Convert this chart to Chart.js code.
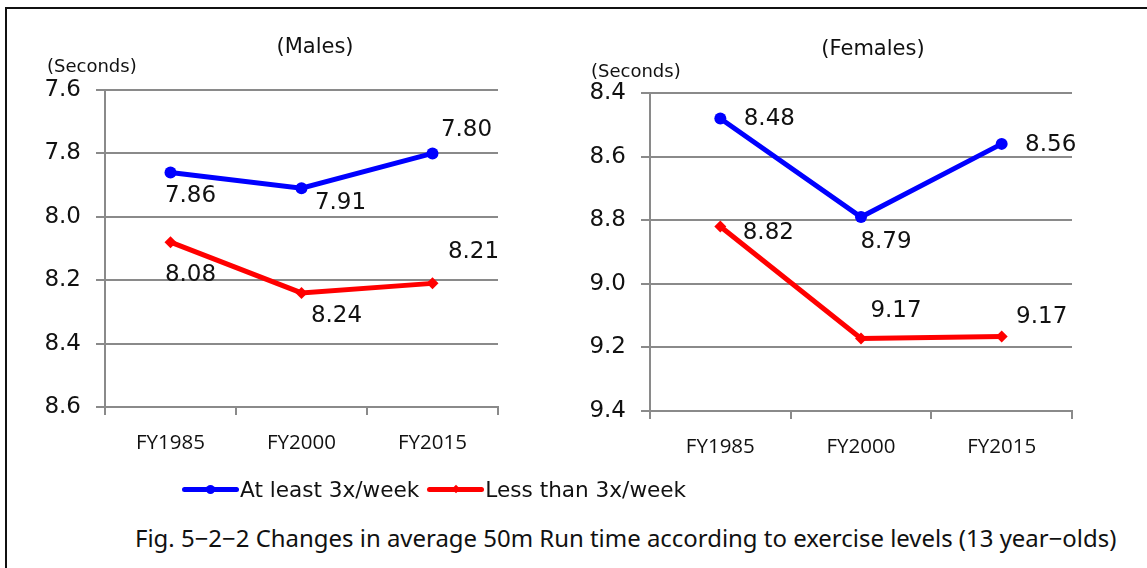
<!DOCTYPE html>
<html>
<head>
<meta charset="utf-8">
<script src="https://cdn.jsdelivr.net/npm/chart.js@4.4.1/dist/chart.umd.min.js"></script>
<style>
  html, body { margin:0; padding:0; background:#fff; }
  #wrap { position:relative; width:1147px; height:568px; overflow:hidden; background:#fff; }
  #frame { position:absolute; left:5px; top:7px; width:1300px; height:700px; border-left:2px solid #111; border-top:2px solid #111; }
  canvas { position:absolute; }
  .txt { position:absolute; white-space:nowrap; color:#111; font-family:"DejaVu Sans", sans-serif; }
  .title { font-size:21px; transform:translate(-50%,-50%); }
  .unit { font-size:18px; transform:translateY(-50%); }
  #legend { position:absolute; left:182px; top:477px; height:24px; display:flex; align-items:center; font-family:"DejaVu Sans", sans-serif; font-size:21.6px; color:#111; }
  .sample { position:relative; width:57px; height:24px; margin-right:1px; }
  .sample .ln { position:absolute; left:0; right:0; top:9.5px; height:5px; border-radius:3px; }
  .sample .mk { position:absolute; }
  #caption { position:absolute; left:135px; top:537px; transform:translateY(-50%); font-family:"Noto Sans", sans-serif; color:#111; white-space:nowrap; }
</style>
</head>
<body>
<div id="wrap">
  <div id="frame"></div>
  <canvas id="males" width="560" height="480" style="left:0;top:0;width:560px;height:480px"></canvas>
  <canvas id="females" width="575" height="480" style="left:560px;top:0;width:575px;height:480px"></canvas>
  <div class="txt title" style="left:315px;top:46px">(Males)</div>
  <div class="txt title" style="left:873px;top:48px">(Females)</div>
  <div class="txt unit" style="left:47px;top:65px">(Seconds)</div>
  <div class="txt unit" style="left:591px;top:70px">(Seconds)</div>
  <div id="legend"></div>
  <div id="caption"></div>
</div>
<script>
// ---- data ----
const categories = ['FY1985', 'FY2000', 'FY2015'];
const seriesNames = ['At least 3x/week', 'Less than 3x/week'];
const maleAtLeast3 = [7.86, 7.91, 7.80];
const maleLessThan3 = [8.08, 8.24, 8.21];
const femaleAtLeast3 = [8.48, 8.79, 8.56];
const femaleLessThan3 = [8.82, 9.172, 9.166];
const maleAxisRange = [7.6, 8.6];
const femaleAxisRange = [8.4, 9.4];
const axisStep = 0.2;
const captionText = 'Fig. 5\u22122\u22122 Changes in average 50m Run time according to exercise levels (13 year\u2212olds)';

// ---- style (label offsets relative to each point, in px) ----
const maleLabelOffsets = [
  [[20, 24], [39, 15], [34, -23]],
  [[20, 33], [35, 23], [41, -31]]
];
const femaleLabelOffsets = [
  [[49, 1], [25, 25], [49, 1]],
  [[48, 6], [35, -27], [40, -20]]
];
const BLUE = '#0000ff', RED = '#ff0000', GRID = '#8a8a8a';

const valueLabels = {
  id: 'valueLabels',
  afterDatasetsDraw(chart, args, opts) {
    const ctx = chart.ctx;
    ctx.save();
    ctx.font = '23px "DejaVu Sans", sans-serif';
    ctx.fillStyle = '#111';
    ctx.textAlign = 'center';
    ctx.textBaseline = 'middle';
    chart.data.datasets.forEach((ds, di) => {
      const meta = chart.getDatasetMeta(di);
      meta.data.forEach((pt, i) => {
        const off = opts.offsets[di][i];
        ctx.fillText(Number(ds.data[i]).toFixed(2), pt.x + off[0], pt.y + off[1]);
      });
    });
    ctx.restore();
  }
};

function makeChart(id, a, b, range, offsets, yWidth, xHeight, padTop, padRight) {
  return new Chart(document.getElementById(id), {
    type: 'line',
    data: {
      labels: categories,
      datasets: [
        { label: seriesNames[0], data: a, borderColor: BLUE, backgroundColor: BLUE, borderWidth: 5,
          pointStyle: 'circle', pointRadius: 6, pointHoverRadius: 6, pointBorderWidth: 0, tension: 0 },
        { label: seriesNames[1], data: b, borderColor: RED, backgroundColor: RED, borderWidth: 5,
          pointStyle: 'rectRot', pointRadius: 6, pointHoverRadius: 6, pointBorderWidth: 0, tension: 0 }
      ]
    },
    options: {
      responsive: false,
      animation: false,
      devicePixelRatio: 1,
      layout: { padding: { top: padTop, right: padRight, left: 0, bottom: 0 } },
      plugins: { legend: { display: false }, tooltip: { enabled: false }, valueLabels: { offsets } },
      scales: {
        x: {
          type: 'category', offset: true,
          grid: { offset: true, drawOnChartArea: false, drawTicks: true, tickLength: 8, color: GRID, lineWidth: 2 },
          border: { display: true, color: GRID, width: 2 },
          ticks: { font: { family: 'Open Sans', size: 20.5 }, color: '#111', padding: 16, maxRotation: 0, autoSkip: false },
          afterFit(s) { s.height = xHeight; }
        },
        y: {
          reverse: true, min: range[0], max: range[1],
          ticks: { stepSize: axisStep, callback: v => Number(v).toFixed(1),
                   font: { family: 'DejaVu Sans', size: 23 }, color: '#111', padding: 15 },
          grid: { color: GRID, lineWidth: 2, drawTicks: true, tickLength: 9 },
          border: { display: true, color: GRID, width: 2 },
          afterFit(s) { s.width = yWidth; }
        }
      }
    },
    plugins: [valueLabels]
  });
}

makeChart('males', maleAtLeast3, maleLessThan3, maleAxisRange, maleLabelOffsets, 105, 73, 90, 62);
makeChart('females', femaleAtLeast3, femaleLessThan3, femaleAxisRange, femaleLabelOffsets, 90, 69, 93, 63);

// ---- legend ----
const legend = document.getElementById('legend');
[[seriesNames[0], BLUE, 'circle'], [seriesNames[1], RED, 'diamond']].forEach(([name, col, mk], i) => {
  const s = document.createElement('div');
  s.className = 'sample';
  if (i > 0) s.style.marginLeft = '8px';
  const ln = document.createElement('div'); ln.className = 'ln'; ln.style.background = col;
  const m = document.createElement('div'); m.className = 'mk'; m.style.background = col;
  if (mk === 'circle') { m.style.cssText += 'width:9px;height:9px;border-radius:50%;left:24px;top:7.5px;'; }
  else { m.style.cssText += 'width:6px;height:6px;left:25.5px;top:9px;transform:rotate(45deg);'; }
  s.appendChild(ln); s.appendChild(m);
  const t = document.createElement('span'); t.textContent = name;
  legend.appendChild(s); legend.appendChild(t);
});

// ---- caption ----
const cap = document.getElementById('caption');
cap.textContent = captionText;
const mctx = document.createElement('canvas').getContext('2d');
mctx.font = '20px "Noto Sans"';
const w = mctx.measureText(captionText).width;
cap.style.fontSize = (20 * 982 / w).toFixed(2) + 'px';
</script>
</body>
</html>
